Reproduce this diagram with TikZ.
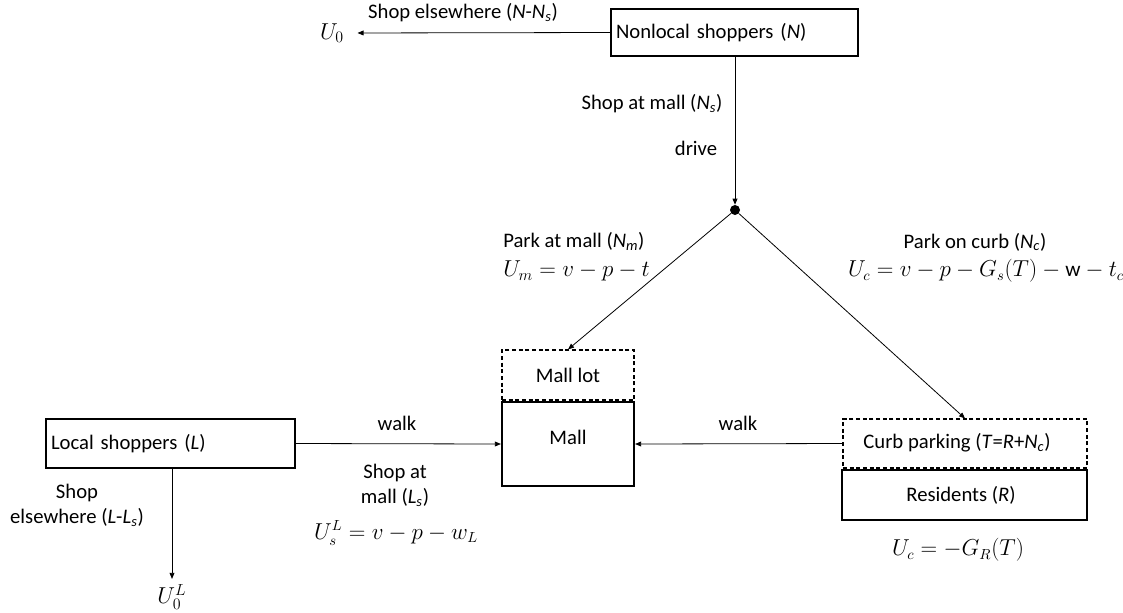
\documentclass[tikz,border=0pt]{standalone}
\usepackage{fontspec}
\setmainfont{Carlito}
\usetikzlibrary{arrows.meta}
% italic variable with optional italic subscript, as in N_s
\newcommand{\iv}[1]{\textit{#1}}
\newcommand{\ivs}[2]{\textit{#1}\textsubscript{\textit{#2}}}
\tikzset{
  pic units/.style={x=0.75pt,y=-0.75pt},
  txt/.style={inner sep=0pt,font=\fontsize{15.5}{19}\selectfont},
  frm/.style={inner sep=0pt,font=\fontsize{17}{20}\selectfont},
  frms/.style={inner sep=0pt,font=\fontsize{16}{19}\selectfont},
  thickbox/.style={draw,line width=1.6pt,inner sep=0pt,font=\fontsize{15.5}{19}\selectfont},
  dashbox/.style={draw,line width=0.9pt,dash pattern=on 3pt off 2pt,inner sep=0pt,font=\fontsize{15.5}{19}\selectfont},
  flow/.style={line width=0.6pt,-{Triangle[length=4.5pt,width=3.6pt]}},
  joint/.style={circle,fill,inner sep=0pt,minimum size=7.5pt},
}
\begin{document}
\begin{tikzpicture}[pic units]
\useasboundingbox (0,0) rectangle (1123,612);

% boxes
\node[thickbox,minimum width=247*0.75pt,minimum height=47*0.75pt,
      text width=237*0.75pt,align=left] (nonlocal) at (734.5,32.5) {Nonlocal shoppers (\iv{N})};
\node[thickbox,minimum width=249*0.75pt,minimum height=49*0.75pt,
      text width=239*0.75pt,align=left] (local) at (170.5,443.5) {Local shoppers (\iv{L})};
\node[dashbox,minimum width=132*0.75pt,minimum height=50*0.75pt] (lot) at (568,375) {Mall lot};
\node[thickbox,minimum width=132*0.75pt,minimum height=84*0.75pt] (mall) at (568,444) {};
\node[txt] (malltxt) at (568,437) {Mall};
\node[dashbox,minimum width=244*0.75pt,minimum height=49*0.75pt] (curb) at (965,443.5) {};
\node[txt] (curbtxt) at (957,443) {Curb parking (\iv{T}=\iv{R}+\ivs{N}{c})};
\node[thickbox,minimum width=245*0.75pt,minimum height=50*0.75pt] (res) at (964.5,495) {};
\node[txt] (restxt) at (961,495) {Residents (\iv{R})};

% outcomes and junction
\node[frm] (u0) at (332,33) {$U_0$};
\node[frm] (u0l) at (172,597) {$U_0^L$};
\node[joint] (dot) at (735,210) {};

% connectors
\draw[flow,shorten >=10pt] (nonlocal.west) -- (u0.east);
\draw[flow] (nonlocal.south -| dot) -- (dot.north);
\draw[flow] (dot) -- (lot.north);
\draw[flow] (dot) -- (curb.north);
\draw[flow] (local.east) -- (mall.west);
\draw[flow] (curb.west) -- (mall.east);
\draw[flow,shorten >=4pt] (local.south -| u0l) -- (u0l.north);

% labels
\node[txt] (lshopelse) at (463,13) {Shop elsewhere (\iv{N}-\ivs{N}{s})};
\node[txt] (lshopmall) at (652,104) {Shop at mall (\ivs{N}{s})};
\node[txt] (ldrive) at (696,148) {drive};
\node[txt,anchor=west] (lparkmall) at (503,241) {Park at mall (\ivs{N}{m})};
\node[frm,anchor=west] (fum) at (503,271) {$U_m = v - p - t$};
\node[txt] (lparkcurb) at (975,242) {Park on curb (\ivs{N}{c})};
\node[frms] (fuc) at (986,271) {$U_c = v - p - G_s(T) - \mathrm{w} - t_c$};
\node[txt] (lwalkl) at (397,423) {walk};
\node[txt] (lwalkr) at (738,423) {walk};
\node[txt,align=center] (lshopmalll) at (395,485) {Shop at\\mall (\ivs{L}{s})};
\node[frms] (fusl) at (396,533) {$U_s^L = v - p - w_L$};
\node[txt,align=center] (lshopelsel) at (77,505) {Shop\\elsewhere (\iv{L}-\ivs{L}{s})};
\node[frms] (fres) at (958,550) {$U_c = -G_R(T)$};
\end{tikzpicture}
\end{document}
